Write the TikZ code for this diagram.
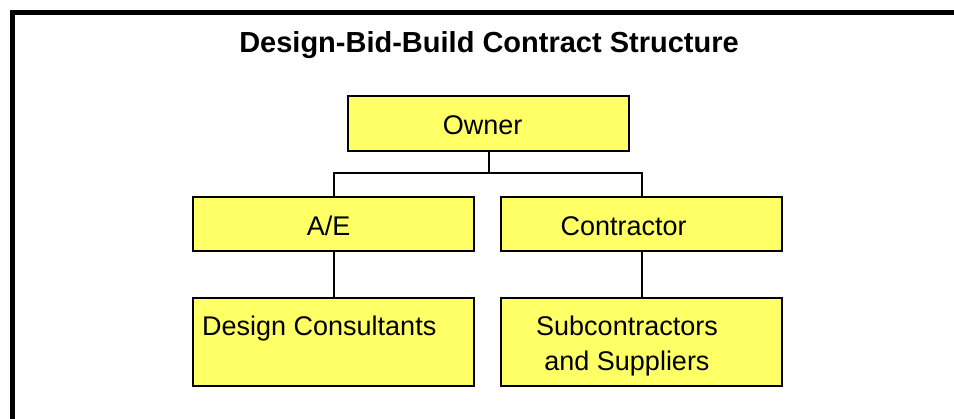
\documentclass[tikz,border=0pt]{standalone}
\usepackage{fontspec}
\setmainfont{Liberation Sans}
\definecolor{boxyellow}{HTML}{FFFF66}
\begin{document}
\begin{tikzpicture}[x=1pt,y=-1pt,
  orgbox/.style={draw=black,fill=boxyellow,line width=2pt,inner sep=0pt,
    minimum width=281pt,minimum height=55pt},
  tallbox/.style={orgbox,minimum height=88pt},
  boxtext/.style={inner sep=0pt,font=\fontsize{27}{35}\selectfont,anchor=base},
  link/.style={line width=2pt}]
\useasboundingbox (0,0) rectangle (954,419);
\begin{scope}
\clip (0,0) rectangle (954,419);
\draw[line width=5.5pt] (12.3,12.5) rectangle (1100,600);
\end{scope}
\node[inner sep=0pt,anchor=base,font=\fontsize{29}{35}\selectfont\bfseries] (title) at (489,52.7) {Design-Bid-Build Contract Structure};
\node[orgbox] (owner) at (488.5,123.5) {};
\node[orgbox,minimum height=54pt] (ae) at (333.5,224) {};
\node[orgbox,minimum height=54pt] (contractor) at (641.5,224) {};
\node[tallbox] (design) at (333.5,342) {};
\node[tallbox] (subs) at (641.5,342) {};
\node[boxtext] (ownert) at (482.7,135) {Owner};
\node[boxtext] (aet) at (328.7,236) {A/E};
\node[boxtext] (contractort) at (623.7,236) {Contractor};
\node[boxtext,anchor=base west] (designt) at (202,336) {Design Consultants};
\node[boxtext,align=center] (subst) at (627,371) {Subcontractors\\and Suppliers};
\coordinate (bus) at (0,173);
\draw[link] (owner.south) -- (owner.south |- bus);
\draw[link] (ae.north) |- (contractor.north |- bus) -- (contractor.north);
\draw[link] (ae.south) -- (design.north);
\draw[link] (contractor.south) -- (subs.north);
\end{tikzpicture}
\end{document}
